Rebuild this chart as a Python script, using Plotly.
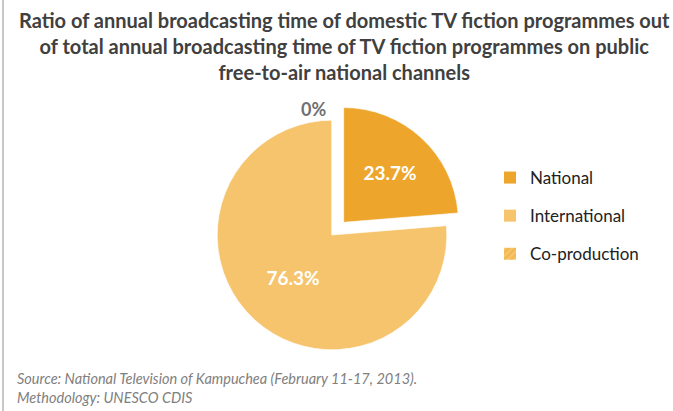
import plotly.graph_objects as go

# Share of annual broadcasting time by origin (%)
categories = ["National", "International", "Co-production"]
shares = [23.7, 76.3, 0.0]

title_lines = [
    "Ratio of annual broadcasting time of domestic TV fiction programmes out",
    "of total annual broadcasting time of TV fiction programmes on public",
    "free-to-air national channels",
]
source_lines = [
    "Source: National Television of Kampuchea (February 11-17, 2013).",
    "Methodology: UNESCO CDIS",
]

W, H = 673, 411
C_NAT = "#EDA52C"
C_INT = "#F6C46C"
slice_colors = [C_NAT, C_INT, C_INT]
slice_patterns = ["", "", "/"]

fig = go.Figure()
fig.add_trace(go.Pie(
    labels=categories,
    values=shares,
    sort=False,
    direction="clockwise",
    rotation=0,
    pull=[0.15, 0, 0],
    marker=dict(
        colors=slice_colors,
        line=dict(color="rgba(255,255,255,0.6)", width=1),
        pattern=dict(shape=slice_patterns, fgcolor=C_NAT, bgcolor=C_INT, size=6, solidity=0.4),
    ),
    texttemplate=["%{value:.1f}%", "%{value:.1f}%", "%{value:.0f}%"],
    textposition=["inside", "inside", "outside"],
    insidetextorientation="horizontal",
    textfont=dict(family="Lato", size=[19, 19, 18], weight="bold",
                  color=["white", "white", "#707070"]),
    domain=dict(x=[(332 - 132) / W, (332 + 132) / W], y=[(H - 235 - 132) / H, (H - 235 + 132) / H]),
    hoverinfo="label+percent",
    showlegend=False,
))

# Legend entries: one keyed swatch per category, spaced as separate groups
for name, col, pat in zip(categories, slice_colors, slice_patterns):
    fig.add_trace(go.Bar(
        x=[None], y=[None], name=name, legendgroup=name, showlegend=True,
        marker=dict(color=col, line=dict(width=0),
                    pattern=dict(shape=pat, fgcolor=C_NAT, bgcolor=C_INT, size=6, solidity=0.4)),
        hoverinfo="skip",
    ))

fig.add_annotation(
    text="<br>".join(title_lines), xref="paper", yref="paper",
    x=345 / W, y=1 - 6 / H, xanchor="center", yanchor="top", showarrow=False,
    font=dict(family="Lato", size=20, color="#404040", weight="bold"),
)
fig.add_annotation(
    text="<br>".join(source_lines), xref="paper", yref="paper",
    x=15 / W, y=1 - 368 / H, xanchor="left", yanchor="top", showarrow=False, align="left",
    font=dict(family="Lato", size=14.5, color="#808080", style="italic"),
)
fig.add_shape(type="line", xref="paper", yref="paper", x0=3 / W, x1=3 / W, y0=0, y1=1,
              line=dict(color="#c8c8c8", width=2))

fig.update_layout(
    width=W, height=H,
    margin=dict(l=0, r=0, t=0, b=0),
    paper_bgcolor="white", plot_bgcolor="white",
    xaxis=dict(visible=False), yaxis=dict(visible=False),
    showlegend=True,
    legend=dict(x=490 / W, y=1 - 160 / H, xanchor="left", yanchor="top",
                font=dict(family="Lato", size=17, color="#222222"),
                traceorder="grouped", tracegroupgap=13),
)

fig.write_html("out.html")
